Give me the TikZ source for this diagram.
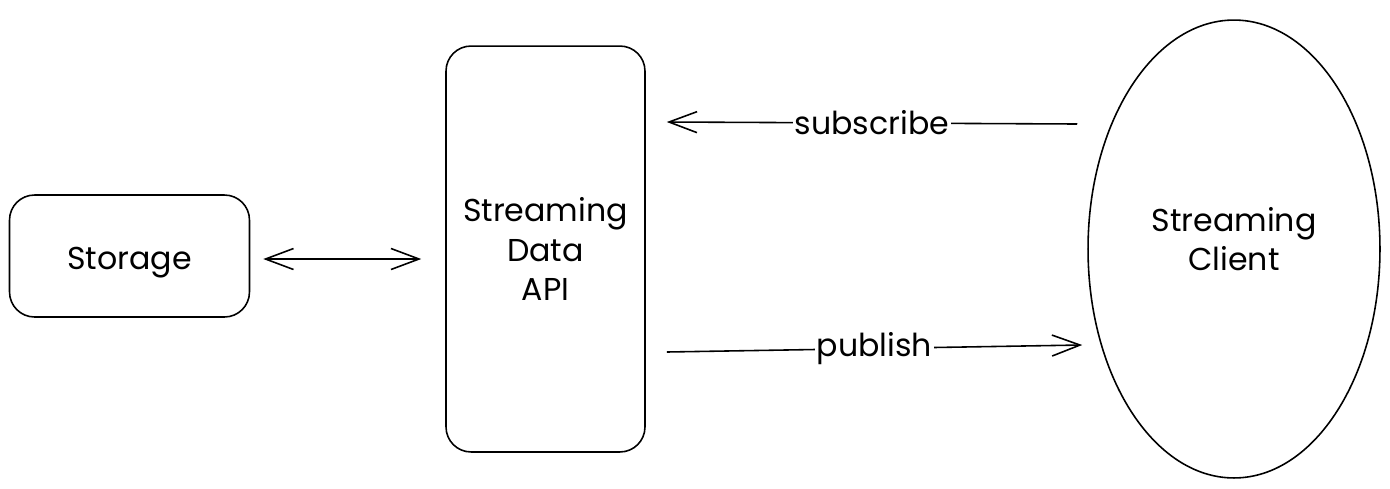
\documentclass[tikz,border=0pt]{standalone}
\usepackage{fontspec}
\setmainfont{Poppins}
\usetikzlibrary{arrows.meta,shapes.geometric}

\begin{document}
\begin{tikzpicture}[x=0.02cm,y=-0.02cm,>={Straight Barb[length=0.56cm,width=0.42cm]},line width=0.9pt,
  box/.style={draw,rounded corners=0.5cm,inner sep=0pt,align=center,font=\fontsize{18}{22.7}\selectfont},
  lbl/.style={fill=white,inner sep=1pt,font=\fontsize{18}{22.7}\selectfont}]
\useasboundingbox (0,0) rectangle (1390,488);
\node[box,text height=0.7cm,minimum width=4.8cm,minimum height=2.44cm] (storage) at (129.5,256) {Storage};
\node[box,minimum width=3.98cm,minimum height=8.12cm] (api) at (545.5,249) {Streaming\\Data\\API};
\node[box,ellipse,rounded corners=0pt,text depth=0.4cm,minimum width=5.84cm,minimum height=9.16cm] (client) at (1234,249) {Streaming\\Client};
\draw[<->,shorten <=0.26cm,shorten >=0.48cm] (storage.east |- 0,259) to (api.west |- 0,259);
\path (api.east) ++(21,-127) coordinate (subL);
\path (client.west) ++(-10,-125) coordinate (subR);
\path (api.east) ++(21,103) coordinate (pubL);
\path (client.west) ++(-5,96) coordinate (pubR);
\draw[->] (subR) to node[lbl,midway] {subscribe} (subL);
\draw[->] (pubL) to node[lbl,midway] {publish} (pubR);
\end{tikzpicture}
\end{document}
